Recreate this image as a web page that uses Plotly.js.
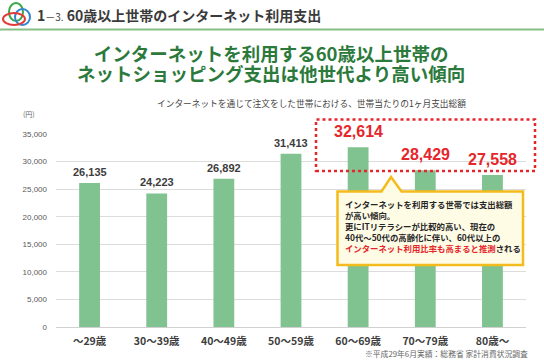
<!DOCTYPE html>
<html>
<head>
<meta charset="utf-8">
<script src="https://cdn.plot.ly/plotly-3.0.1.min.js"></script>
<style>html,body{margin:0;padding:0;background:#fff;}#chart{width:544px;height:363px;}</style>
</head>
<body>
<div id="chart"></div>
<script>
// ---- data ----
const categories = ["～29歳", "30～39歳", "40～49歳", "50～59歳", "60～69歳", "70～79歳", "80歳～"];
const spending = [26135, 24223, 26892, 31413, 32614, 28429, 27558];
const highlighted = [false, false, false, false, true, true, true];
const yTickValues = [0, 5000, 10000, 15000, 20000, 25000, 30000, 35000];
const yTickLabels = ["0", "5,000", "10,000", "15,000", "20,000", "25,000", "30,000", "35,000"];

const headerNumber = "1";
const headerSub = "－3.";
const headerText = " 60歳以上世帯のインターネット利用支出";
const mainTitle1 = "インターネットを利用する60歳以上世帯の";
const mainTitle2 = "ネットショッピング支出は他世代より高い傾向";
const subTitle = "インターネットを通じて注文をした世帯における、世帯当たりの1ヶ月支出総額";
const unitLabel = "(円)";
const calloutLines = [
  "インターネットを利用する世帯では支出総額",
  "が高い傾向。",
  "更にITリテラシーが比較的高い、現在の",
  "40代～50代の高齢化に伴い、60代以上の"
];
const calloutRed = "インターネット利用比率も高まると推測";
const calloutTail = "される";
const footnote = "※平成29年6月実績：総務省 家計消費状況調査";

// ---- layout geometry ----
const W = 544, H = 363;
const M = {l: 56, r: 18, t: 134, b: 36};
const PW = W - M.l - M.r, PH = H - M.t - M.b;
const px = x => (x - M.l) / PW;
const py = y => (H - M.b - y) / PH;

const JP = "Noto Sans CJK JP";
const NUM = "Liberation Sans";
const RED = "#e5262b";
const DARK = "#3d3d3d";
const GREEN = "#80c391";

const trace = {
  type: "bar",
  x: categories,
  y: spending,
  marker: {color: GREEN},
  hoverinfo: "none"
};

const annotations = [];
// data labels
categories.forEach((c, i) => {
  const fmt = spending[i].toLocaleString("en-US");
  annotations.push({
    xref: "x", yref: "y", x: c, y: spending[i],
    text: "<b>" + fmt + "</b>",
    showarrow: false, yanchor: "bottom",
    yshift: highlighted[i] ? 5 : 3,
    font: {family: NUM, size: highlighted[i] ? 16 : 11, color: highlighted[i] ? RED : DARK}
  });
});
// header
annotations.push({xref: "paper", yref: "paper", x: px(35), y: py(15), xanchor: "left", yanchor: "middle", showarrow: false,
  text: "<b>" + headerNumber + "</b><span style='font-size:10px'>" + headerSub + "</span><b>" + headerText + "</b>",
  font: {family: JP, size: 14, color: "#3a3a3a"}});
// two-line main title (line pitch 1.3 x 15px = 19.5px, glyphs 18.5px)
annotations.push({xref: "paper", yref: "paper", x: px(271), y: py(62.8), xanchor: "center", yanchor: "middle", align: "center", showarrow: false,
  text: "<b><span style='font-size:18.5px'>" + mainTitle1 + "</span><br><span style='font-size:18.5px'>" + mainTitle2 + "</span></b>",
  font: {family: JP, size: 15, color: "#2b7a3c"}});
annotations.push({xref: "paper", yref: "paper", x: px(311), y: py(103), xanchor: "center", yanchor: "middle", showarrow: false,
  text: subTitle, font: {family: JP, size: 8.7, color: "#444"}});
annotations.push({xref: "paper", yref: "paper", x: px(29), y: py(113.5), xanchor: "center", yanchor: "middle", showarrow: false,
  text: unitLabel, font: {family: JP, size: 7, color: "#666"}});
annotations.push({xref: "paper", yref: "paper", x: px(530), y: py(353.5), xanchor: "right", yanchor: "middle", showarrow: false,
  text: footnote, font: {family: JP, size: 7.8, color: "#666"}});
// callout text
annotations.push({xref: "paper", yref: "paper", x: px(343), y: py(226), xanchor: "left", yanchor: "middle", align: "left", showarrow: false,
  text: "<b>" + calloutLines.join("<br>") + "<br><span style='color:" + RED + "'>" + calloutRed + "</span>" + calloutTail + "</b>",
  font: {family: JP, size: 8.4, color: "#262626"}});

const P = (x, y) => px(x) + "," + py(y);
const shapes = [
  // header rule
  {type: "line", xref: "paper", yref: "paper", x0: px(0), x1: px(544), y0: py(29.5), y1: py(29.5), line: {color: "#86bf86", width: 2}},
  // logo rings
  {type: "circle", xref: "paper", yref: "paper", x0: px(9), x1: px(23), y0: py(21), y1: py(3), line: {color: "#3aa64a", width: 2}},
  {type: "circle", xref: "paper", yref: "paper", x0: px(15), x1: px(30), y0: py(25), y1: py(9), line: {color: "#2f86d0", width: 2}},
  {type: "circle", xref: "paper", yref: "paper", x0: px(3), x1: px(25), y0: py(25), y1: py(13), line: {color: "#e33a3a", width: 2}},
  // red dotted highlight box
  {type: "rect", xref: "paper", yref: "paper", x0: px(316), x1: px(535), y0: py(171), y1: py(119.5), line: {color: RED, width: 2.5, dash: "dot"}},
  // callout balloon
  {type: "path", xref: "paper", yref: "paper",
   path: "M" + P(337.5, 191.5) + " L" + P(381.5, 191.5) + " L" + P(391, 177) + " L" + P(401.5, 191.5) + " L" + P(523, 191.5) + " L" + P(523, 265) + " L" + P(337.5, 265) + " Z",
   fillcolor: "#fffce6", line: {color: "#f4bb1c", width: 2.5}}
];

const layout = {
  width: W, height: H,
  margin: M,
  paper_bgcolor: "#fff", plot_bgcolor: "#fff",
  showlegend: false,
  bargap: 0.69,
  font: {family: JP},
  xaxis: {
    type: "category",
    tickfont: {family: JP, size: 10.5, color: DARK, weight: "bold"},
    ticks: "", showline: false, showgrid: false, ticklabelstandoff: 6, fixedrange: true
  },
  yaxis: {
    range: [0, 35000],
    tickvals: yTickValues, ticktext: yTickLabels,
    tickfont: {family: NUM, size: 8, color: "#595959"},
    gridcolor: "#dcdcdc", gridwidth: 1,
    zeroline: true, zerolinecolor: "#d0d0d0", zerolinewidth: 1,
    showline: false, ticks: "", ticklabelstandoff: 8, fixedrange: true
  },
  annotations: annotations,
  shapes: shapes
};

Plotly.newPlot("chart", [trace], layout, {displayModeBar: false, staticPlot: true});
</script>
</body>
</html>
